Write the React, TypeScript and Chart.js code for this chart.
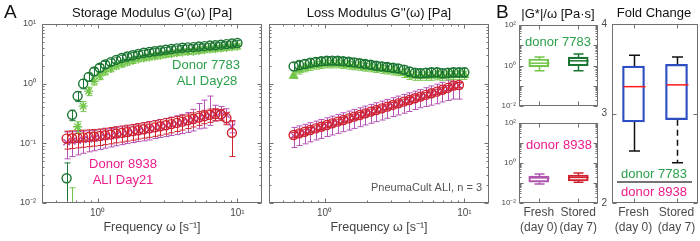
import React, { useEffect, useRef } from 'react';
import { Chart, registerables } from 'chart.js';

Chart.register(...registerables);

const FONT = '"Liberation Sans", Arial, Helvetica, sans-serif';
const AX = '#707070';
const TICK_TXT = '#4a4a4a';

const DARK_G = '#1b7532';
const LIGHT_G = '#74c64a';
const RED = '#d1232f';
const MAG = '#b552b5';
const TXT_G = '#2aa04a';
const TXT_P = '#ec1c8c';
const BLUE = '#2e4fc4';

// ---------- Panel A data ----------
const freq = [0.600, 0.657, 0.719, 0.788, 0.863, 0.945, 1.035, 1.133, 1.241, 1.359, 1.488, 1.629, 1.784, 1.954, 2.139, 2.343, 2.565, 2.809, 3.076, 3.368, 3.688, 4.039, 4.422, 4.843, 5.303, 5.807, 6.358, 6.962, 7.624, 8.348, 9.141, 10.0];

// Storage modulus G'
const gpDark = [0.026, 0.30, 0.62, 1.0, 1.3, 1.6, 1.85, 2.1, 2.3, 2.5, 2.7, 2.85, 3.0, 3.15, 3.3, 3.4, 3.5, 3.6, 3.7, 3.8, 3.9, 4.0, 4.05, 4.1, 4.2, 4.25, 4.35, 4.4, 4.5, 4.6, 4.7, 4.8];
const gpDarkErr = [0.021, 0.06, 0.12, 0.18, 0.2, 0.22, 0.24, 0.26, 0.27, 0.28, 0.29, 0.3, 0.31, 0.32, 0.33, 0.34, 0.35, 0.35, 0.36, 0.36, 0.37, 0.38, 0.38, 0.39, 0.4, 0.4, 0.41, 0.42, 0.43, 0.44, 0.45, 0.46];
const gpLight = [0.004, 0.006, 0.19, 0.42, 0.75, 1.1, 1.35, 1.6, 1.8, 2.0, 2.15, 2.3, 2.45, 2.6, 2.7, 2.8, 2.9, 3.0, 3.1, 3.2, 3.3, 3.4, 3.45, 3.5, 3.6, 3.7, 3.8, 3.85, 3.95, 4.05, 4.15, 4.25];
const gpLightErr = [0.002, 0.012, 0.04, 0.08, 0.12, 0.15, 0.18, 0.2, 0.22, 0.24, 0.25, 0.26, 0.27, 0.28, 0.29, 0.3, 0.31, 0.32, 0.33, 0.34, 0.35, 0.36, 0.37, 0.38, 0.39, 0.4, 0.41, 0.42, 0.43, 0.44, 0.45, 0.46];
const gpRed = [0.120, 0.122, 0.124, 0.126, 0.128, 0.130, 0.133, 0.137, 0.141, 0.146, 0.150, 0.155, 0.160, 0.166, 0.172, 0.178, 0.185, 0.193, 0.201, 0.210, 0.220, 0.231, 0.243, 0.256, 0.270, 0.285, 0.300, 0.310, 0.305, 0.265, 0.150];
const gpRedErr = [0.04, 0.04, 0.04, 0.04, 0.04, 0.04, 0.041, 0.042, 0.043, 0.044, 0.045, 0.046, 0.047, 0.048, 0.05, 0.052, 0.054, 0.056, 0.058, 0.06, 0.062, 0.064, 0.066, 0.068, 0.07, 0.072, 0.075, 0.07, 0.065, 0.06, 0.09];
const gpMag = [0.105, 0.108, 0.111, 0.114, 0.117, 0.120, 0.124, 0.128, 0.132, 0.137, 0.142, 0.147, 0.153, 0.159, 0.165, 0.172, 0.180, 0.188, 0.196, 0.205, 0.215, 0.226, 0.238, 0.251, 0.265, 0.280, 0.300, 0.315, 0.335, 0.300, 0.190];
const gpMagErrLow = [0.05, 0.048, 0.047, 0.046, 0.045, 0.045, 0.045, 0.045, 0.045, 0.046, 0.047, 0.048, 0.05, 0.052, 0.055, 0.058, 0.06, 0.063, 0.066, 0.07, 0.075, 0.08, 0.085, 0.09, 0.09, 0.1, 0.1, 0.08, 0.08, 0.08, 0.04];
const gpMagErrHigh = [0.05, 0.048, 0.047, 0.046, 0.045, 0.045, 0.045, 0.045, 0.045, 0.046, 0.047, 0.048, 0.05, 0.052, 0.055, 0.058, 0.06, 0.063, 0.066, 0.07, 0.075, 0.08, 0.09, 0.12, 0.2, 0.25, 0.32, 0.12, 0.08, 0.08, 0.04];

// Loss modulus G''
const gppDark = [1.95, 2.05, 2.15, 2.25, 2.32, 2.38, 2.42, 2.43, 2.42, 2.38, 2.33, 2.27, 2.20, 2.13, 2.07, 2.00, 1.95, 1.90, 1.85, 1.80, 1.72, 1.60, 1.52, 1.50, 1.52, 1.55, 1.55, 1.50, 1.52, 1.55, 1.55, 1.55];
const gppDarkErr = [0.3, 0.32, 0.33, 0.34, 0.35, 0.35, 0.36, 0.36, 0.36, 0.35, 0.35, 0.34, 0.33, 0.32, 0.31, 0.3, 0.3, 0.29, 0.28, 0.28, 0.27, 0.26, 0.25, 0.25, 0.26, 0.26, 0.26, 0.25, 0.26, 0.26, 0.26, 0.26];
const gppLight = [1.35, 1.70, 1.85, 1.95, 2.05, 2.10, 2.15, 2.15, 2.15, 2.10, 2.05, 2.00, 1.95, 1.90, 1.85, 1.80, 1.75, 1.70, 1.65, 1.60, 1.50, 1.40, 1.35, 1.35, 1.35, 1.35, 1.38, 1.35, 1.38, 1.40, 1.40, 1.40];
const gppLightErr = [0.12, 0.25, 0.27, 0.28, 0.3, 0.3, 0.31, 0.31, 0.31, 0.3, 0.3, 0.29, 0.28, 0.28, 0.27, 0.26, 0.26, 0.25, 0.25, 0.24, 0.23, 0.22, 0.21, 0.21, 0.21, 0.21, 0.22, 0.21, 0.22, 0.22, 0.22, 0.22];
const gppRed = [0.138, 0.147, 0.156, 0.167, 0.178, 0.190, 0.203, 0.216, 0.231, 0.246, 0.262, 0.280, 0.298, 0.318, 0.340, 0.362, 0.386, 0.412, 0.440, 0.468, 0.500, 0.533, 0.570, 0.607, 0.648, 0.690, 0.735, 0.790, 0.850, 0.930, 0.950];
const gppRedErr = [0.014, 0.015, 0.016, 0.017, 0.018, 0.019, 0.02, 0.022, 0.023, 0.025, 0.026, 0.028, 0.03, 0.032, 0.034, 0.036, 0.039, 0.041, 0.044, 0.047, 0.05, 0.053, 0.057, 0.061, 0.065, 0.069, 0.074, 0.079, 0.085, 0.093, 0.095];
const gppMag = [0.135, 0.144, 0.153, 0.164, 0.175, 0.186, 0.199, 0.212, 0.226, 0.241, 0.257, 0.274, 0.292, 0.312, 0.333, 0.355, 0.378, 0.404, 0.431, 0.459, 0.490, 0.522, 0.559, 0.595, 0.635, 0.676, 0.720, 0.774, 0.833, 0.911, 0.931];
const gppMagErr = [0.05, 0.052, 0.055, 0.058, 0.061, 0.065, 0.069, 0.074, 0.079, 0.084, 0.09, 0.096, 0.102, 0.109, 0.116, 0.124, 0.132, 0.141, 0.15, 0.16, 0.17, 0.18, 0.19, 0.2, 0.22, 0.24, 0.26, 0.28, 0.31, 0.36, 0.38];

// ---------- Panel B data ----------
const groups = [['Fresh', '(day 0)'], ['Stored', '(day 7)']];
// |G*|/w, donor 7783
const d7783Min = [0.55, 0.55];
const d7783Q1 = [0.85, 0.97];
const d7783Med = [1.3, 1.7];
const d7783Q3 = [2.1, 2.6];
const d7783Max = [2.6, 3.7];
// |G*|/w, donor 8938
const d8938Min = [0.09, 0.11];
const d8938Q1 = [0.11, 0.126];
const d8938Med = [0.18, 0.19];
const d8938Q3 = [0.22, 0.25];
const d8938Max = [0.28, 0.32];
// fold change
const foldMin = [2.58, 2.45];
const foldQ1 = [2.905, 2.93];
const foldMed = [3.30, 3.32];
const foldQ3 = [3.53, 3.55];
const foldMax = [3.65, 3.63];

const DECADE_LABEL: Record<string, string> = { '-2': '10⁻²', '-1': '10⁻¹', '0': '10⁰', '1': '10¹', '2': '10²' };
function decadeLabel(v: number, every = 1): string {
  const l = Math.log10(Number(v));
  const r = Math.round(l);
  if (Math.abs(l - r) > 1e-6 || r % every !== 0) return '';
  return DECADE_LABEL[String(r)] || '';
}

function logTicks(lo: number, hi: number) {
  const major: number[] = [];
  const minor: number[] = [];
  for (let e = Math.floor(Math.log10(lo)); e <= Math.ceil(Math.log10(hi)); e++) {
    for (let m = 1; m <= 9; m++) {
      const v = Number((m * Math.pow(10, e)).toPrecision(6));
      if (v < lo * 0.9999 || v > hi * 1.0001) continue;
      (m === 1 ? major : minor).push(v);
    }
  }
  return { major, minor };
}

function framePlugin(cfg: { xMajor?: number[]; xMinor?: number[]; yMajor?: number[]; yMinor?: number[] }) {
  return {
    id: 'frame',
    afterDraw(chart: any) {
      const { ctx, chartArea: a } = chart;
      const xs = chart.scales.x;
      const ys = chart.scales.y;
      const L = Math.round(a.left) + 0.5;
      const R = Math.round(a.right) - 0.5;
      const T = Math.round(a.top) + 0.5;
      const B = Math.round(a.bottom) - 0.5;
      ctx.save();
      ctx.strokeStyle = AX;
      ctx.lineWidth = 1;
      ctx.beginPath();
      const xt = (vals: number[] | undefined, len: number) => (vals || []).forEach((v) => {
        const p = Math.round(xs.getPixelForValue(v)) + 0.5;
        ctx.moveTo(p, B); ctx.lineTo(p, B - len);
        ctx.moveTo(p, T); ctx.lineTo(p, T + len);
      });
      const yt = (vals: number[] | undefined, len: number) => (vals || []).forEach((v) => {
        const p = Math.round(ys.getPixelForValue(v)) + 0.5;
        ctx.moveTo(L, p); ctx.lineTo(L + len, p);
        ctx.moveTo(R, p); ctx.lineTo(R - len, p);
      });
      xt(cfg.xMajor, 4); xt(cfg.xMinor, 2);
      yt(cfg.yMajor, 4); yt(cfg.yMinor, 2);
      ctx.stroke();
      ctx.strokeRect(L, T, R - L, B - T);
      ctx.restore();
    },
  };
}

type TextItem = { text?: string; x: number; y: number; color: string; size?: number; align?: CanvasTextAlign; line?: [number, number, number, number] };
function textPlugin(items: TextItem[]) {
  return {
    id: 'texts',
    afterDraw(chart: any) {
      const ctx = chart.ctx;
      ctx.save();
      items.forEach((t) => {
        if (t.line) {
          ctx.strokeStyle = t.color;
          ctx.lineWidth = 1.5;
          ctx.beginPath();
          ctx.moveTo(t.line[0], t.line[1]);
          ctx.lineTo(t.line[2], t.line[3]);
          ctx.stroke();
          return;
        }
        ctx.font = `${t.size || 13}px ${FONT}`;
        ctx.fillStyle = t.color;
        ctx.textAlign = t.align || 'center';
        ctx.textBaseline = 'middle';
        ctx.fillText(t.text || '', t.x, t.y);
      });
      ctx.restore();
    },
  };
}

const errorBarPlugin = {
  id: 'errbars',
  beforeDatasetDraw(chart: any, args: any) {
    const ds = chart.data.datasets[args.index];
    if (!ds.errLow) return;
    const { ctx, chartArea: a } = chart;
    const xs = chart.scales.x;
    const ys = chart.scales.y;
    ctx.save();
    ctx.beginPath();
    ctx.rect(a.left, a.top, a.right - a.left, a.bottom - a.top);
    ctx.clip();
    ctx.strokeStyle = ds.errorColor;
    ctx.lineWidth = 1;
    ctx.beginPath();
    ds.data.forEach((p: any, i: number) => {
      const el = ds.errLow[i];
      const eh = ds.errHigh[i];
      if (el == null || eh == null) return;
      const x = Math.round(xs.getPixelForValue(p.x)) + 0.5;
      const hi = p.y + eh;
      const lo = p.y - el;
      const yHi = ys.getPixelForValue(hi);
      const yLo = lo > 0 ? ys.getPixelForValue(lo) : a.bottom + 20;
      ctx.moveTo(x, yHi); ctx.lineTo(x, yLo);
      ctx.moveTo(x - 3, yHi); ctx.lineTo(x + 3, yHi);
      ctx.moveTo(x - 3, yLo); ctx.lineTo(x + 3, yLo);
    });
    ctx.stroke();
    ctx.restore();
  },
};

function boxPlugin(stats: { min: number[]; q1: number[]; med: number[]; q3: number[]; max: number[] }, whisker: string[], median: string[], cap: number, lowDash: (number[] | null)[]) {
  return {
    id: 'boxes',
    afterDatasetsDraw(chart: any) {
      const { ctx } = chart;
      const xs = chart.scales.x;
      const ys = chart.scales.y;
      ctx.save();
      stats.min.forEach((_, i) => {
        const x = Math.round(xs.getPixelForValue(i)) + 0.5;
        const bw = chart.getDatasetMeta(0).data[i]?.width || 20;
        const yMin = ys.getPixelForValue(stats.min[i]);
        const yQ1 = ys.getPixelForValue(stats.q1[i]);
        const yMed = ys.getPixelForValue(stats.med[i]);
        const yQ3 = ys.getPixelForValue(stats.q3[i]);
        const yMax = ys.getPixelForValue(stats.max[i]);
        ctx.strokeStyle = whisker[i];
        ctx.lineWidth = 1.5;
        ctx.setLineDash([]);
        ctx.beginPath();
        ctx.moveTo(x, yQ3); ctx.lineTo(x, yMax);
        ctx.moveTo(x - cap / 2, yMax); ctx.lineTo(x + cap / 2, yMax);
        ctx.moveTo(x - cap / 2, yMin); ctx.lineTo(x + cap / 2, yMin);
        ctx.stroke();
        ctx.setLineDash(lowDash[i] || []);
        ctx.beginPath();
        ctx.moveTo(x, yQ1); ctx.lineTo(x, yMin);
        ctx.stroke();
        ctx.setLineDash([]);
        ctx.strokeStyle = median[i];
        ctx.beginPath();
        ctx.moveTo(x - bw / 2, yMed); ctx.lineTo(x + bw / 2, yMed);
        ctx.stroke();
      });
      ctx.restore();
    },
  };
}

function series(ys: number[], errLow: number[], errHigh: number[], color: string, style: string, order: number, fill = false) {
  return {
    data: ys.map((y, i) => ({ x: freq[i], y })),
    errLow,
    errHigh,
    errorColor: color,
    pointStyle: style,
    pointRadius: 4.5,
    pointBorderColor: color,
    pointBackgroundColor: fill ? color : 'rgba(0,0,0,0)',
    pointBorderWidth: 1.4,
    borderColor: color,
    backgroundColor: fill ? color : 'rgba(0,0,0,0)',
    showLine: false,
    order,
  };
}

const noGrid = { display: false, drawTicks: false };
const noBorder = { display: false };

function freqAxis() {
  return {
    type: 'logarithmic',
    min: 0.4,
    max: 15,
    bounds: 'data',
    grid: noGrid,
    border: noBorder,
    ticks: {
      autoSkip: false,
      maxRotation: 0,
      padding: 4,
      color: TICK_TXT,
      font: { family: FONT, size: 10 },
      callback: (v: any) => decadeLabel(v),
    },
    title: {
      display: true,
      text: 'Frequency ω [s⁻¹]',
      color: '#444',
      font: { family: FONT, size: 12.5 },
      padding: { top: 0, bottom: 6 },
    },
    afterFit: (s: any) => { s.height = 38; },
  };
}

function modulusAxis(showLabels: boolean) {
  return {
    type: 'logarithmic',
    min: 0.01,
    max: 10,
    bounds: 'data',
    display: showLabels,
    grid: noGrid,
    border: noBorder,
    ticks: {
      autoSkip: false,
      padding: 6,
      color: TICK_TXT,
      font: { family: FONT, size: 9 },
      callback: (v: any) => decadeLabel(v),
    },
    afterFit: (s: any) => { s.width = showLabels ? 30 : 0; },
  };
}

const baseOpts = {
  animation: false,
  responsive: false,
  maintainAspectRatio: false,
  events: [],
};

const fx = logTicks(0.4, 15);
const fy = logTicks(0.01, 10);
const gy = logTicks(0.01, 100);

function configA1(): any {
  return {
    type: 'scatter',
    data: {
      datasets: [
        series(gpDark, gpDarkErr, gpDarkErr, DARK_G, 'circle', 0),
        series(gpLight, gpLightErr, gpLightErr, LIGHT_G, 'star', 1),
        series(gpRed, gpRedErr, gpRedErr, RED, 'circle', 2),
        series(gpMag, gpMagErrLow, gpMagErrHigh, MAG, 'crossRot', 3),
      ],
    },
    options: {
      ...baseOpts,
      layout: { padding: { left: 12, top: 24, right: 438, bottom: 0 } },
      scales: { x: freqAxis(), y: modulusAxis(true) },
      plugins: { legend: { display: false }, tooltip: { enabled: false } },
    },
    plugins: [
      errorBarPlugin,
      framePlugin({ xMajor: fx.major, xMinor: fx.minor, yMajor: fy.major, yMinor: fy.minor }),
      textPlugin([
        { text: 'A', x: 4, y: 13, color: '#111', size: 19, align: 'left' },
        { text: "Storage Modulus G'(ω) [Pa]", x: 152, y: 13, color: '#111', size: 13 },
        { text: 'Donor 7783', x: 206, y: 65, color: TXT_G, size: 13 },
        { text: 'ALI Day28', x: 207, y: 81, color: TXT_G, size: 13 },
        { text: 'Donor 8938', x: 123, y: 164, color: TXT_P, size: 13 },
        { text: 'ALI Day21', x: 123, y: 180, color: TXT_P, size: 13 },
      ]),
    ],
  };
}

function configA2(): any {
  return {
    type: 'scatter',
    data: {
      datasets: [
        series(gppDark, gppDarkErr, gppDarkErr, DARK_G, 'circle', 1),
        series(gppLight, gppLightErr, gppLightErr, LIGHT_G, 'triangle', 2, true),
        series(gppRed, gppRedErr, gppRedErr, RED, 'circle', 0),
        series(gppMag, gppMagErr, gppMagErr, MAG, 'crossRot', 3),
      ],
    },
    options: {
      ...baseOpts,
      layout: { padding: { left: 269, top: 24, right: 211, bottom: 0 } },
      scales: { x: freqAxis(), y: modulusAxis(false) },
      plugins: { legend: { display: false }, tooltip: { enabled: false } },
    },
    plugins: [
      errorBarPlugin,
      framePlugin({ xMajor: fx.major, xMinor: fx.minor, yMajor: fy.major, yMinor: fy.minor }),
      textPlugin([
        { text: "Loss Modulus G''(ω) [Pa]", x: 379, y: 13, color: '#111', size: 13 },
        { text: 'PneumaCult ALI, n = 3', x: 482, y: 188, color: '#555', size: 11, align: 'right' },
      ]),
    ],
  };
}

function smallBoxConfig(top: number, bottom: number, showX: boolean, min: number[], q1: number[], med: number[], q3: number[], max: number[], colors: string[], extraTexts: TextItem[]): any {
  return {
    type: 'bar',
    data: {
      labels: groups,
      datasets: [{
        data: q1.map((v, i) => [v, q3[i]]),
        borderColor: colors,
        backgroundColor: 'rgba(0,0,0,0)',
        borderWidth: 1.5,
        borderSkipped: false,
        barThickness: 20,
      }],
    },
    options: {
      ...baseOpts,
      layout: { padding: { left: 489, top, right: 102, bottom: showX ? 0 : 241 - bottom } },
      scales: {
        x: {
          type: 'category',
          display: showX,
          grid: noGrid,
          border: noBorder,
          ticks: { padding: 2, color: TICK_TXT, font: { family: FONT, size: 12, lineHeight: 1.25 }, maxRotation: 0, autoSkip: false },
          afterFit: (s: any) => { s.height = showX ? 38 : 0; },
        },
        y: {
          type: 'logarithmic',
          min: 0.01,
          max: 100,
          bounds: 'data',
          grid: noGrid,
          border: noBorder,
          ticks: { autoSkip: false, padding: 3, color: TICK_TXT, font: { family: FONT, size: 8 }, callback: (v: any) => decadeLabel(v, 2) },
          afterFit: (s: any) => { s.width = 30; },
        },
      },
      plugins: { legend: { display: false }, tooltip: { enabled: false } },
    },
    plugins: [
      boxPlugin({ min, q1, med, q3, max }, colors, colors, 10, [null, null]),
      framePlugin({ xMajor: [0, 1], yMajor: gy.major, yMinor: gy.minor }),
      textPlugin(extraTexts),
    ],
  };
}

function configFold(): any {
  return {
    type: 'bar',
    data: {
      labels: groups,
      datasets: [{
        data: foldQ1.map((v, i) => [v, foldQ3[i]]),
        borderColor: BLUE,
        backgroundColor: 'rgba(0,0,0,0)',
        borderWidth: 1.6,
        borderSkipped: false,
        barThickness: 22,
      }],
    },
    options: {
      ...baseOpts,
      layout: { padding: { left: 592, top: 24, right: 2, bottom: 0 } },
      scales: {
        x: {
          type: 'category',
          grid: noGrid,
          border: noBorder,
          ticks: { padding: 2, color: TICK_TXT, font: { family: FONT, size: 12, lineHeight: 1.25 }, maxRotation: 0, autoSkip: false },
          afterFit: (s: any) => { s.height = 38; },
        },
        y: {
          type: 'linear',
          min: 2,
          max: 4,
          grid: noGrid,
          border: noBorder,
          ticks: { stepSize: 1, padding: 5, color: TICK_TXT, font: { family: FONT, size: 10 } },
          afterFit: (s: any) => { s.width = 20; },
        },
      },
      plugins: { legend: { display: false }, tooltip: { enabled: false } },
    },
    plugins: [
      boxPlugin({ min: foldMin, q1: foldQ1, med: foldMed, q3: foldQ3, max: foldMax }, ['#111', '#111'], ['#ff1a1a', '#ff1a1a'], 11, [null, [6, 4]]),
      framePlugin({ xMajor: [0, 1], yMajor: [2, 3, 4] }),
      textPlugin([
        { text: 'Fold Change', x: 654, y: 13, color: '#111', size: 13 },
        { text: 'donor 7783', x: 654, y: 174, color: TXT_G, size: 13 },
        { line: [617, 182, 692, 182], x: 0, y: 0, color: '#444' },
        { text: 'donor 8938', x: 654, y: 192, color: TXT_P, size: 13 },
      ]),
    ],
  };
}

export default function App() {
  const refs = [useRef<HTMLCanvasElement>(null), useRef<HTMLCanvasElement>(null), useRef<HTMLCanvasElement>(null), useRef<HTMLCanvasElement>(null), useRef<HTMLCanvasElement>(null)];

  useEffect(() => {
    document.body.style.margin = '0';
    const configs = [
      configA1(),
      configA2(),
      smallBoxConfig(25, 106, false, d7783Min, d7783Q1, d7783Med, d7783Q3, d7783Max, [LIGHT_G, DARK_G], [
        { text: 'B', x: 496, y: 13, color: '#111', size: 19, align: 'left' },
        { text: '|G*|/ω [Pa·s]', x: 558, y: 14, color: '#111', size: 13 },
        { text: 'donor 7783', x: 558, y: 42, color: TXT_G, size: 13 },
      ]),
      smallBoxConfig(123, 203, true, d8938Min, d8938Q1, d8938Med, d8938Q3, d8938Max, ['#b056b0', RED], [
        { text: 'donor 8938', x: 559, y: 145, color: TXT_P, size: 13 },
      ]),
      configFold(),
    ];
    const charts = configs.map((c, i) => new Chart(refs[i].current as HTMLCanvasElement, c));
    return () => charts.forEach((c) => c.destroy());
  }, []);

  return (
    <div style={{ position: 'fixed', left: 0, top: 0, width: 700, height: 241, background: '#fff', overflow: 'hidden' }}>
      {refs.map((r, i) => (
        <canvas key={i} ref={r} width={700} height={241} style={{ position: 'absolute', left: 0, top: 0, width: 700, height: 241 }} />
      ))}
    </div>
  );
}
